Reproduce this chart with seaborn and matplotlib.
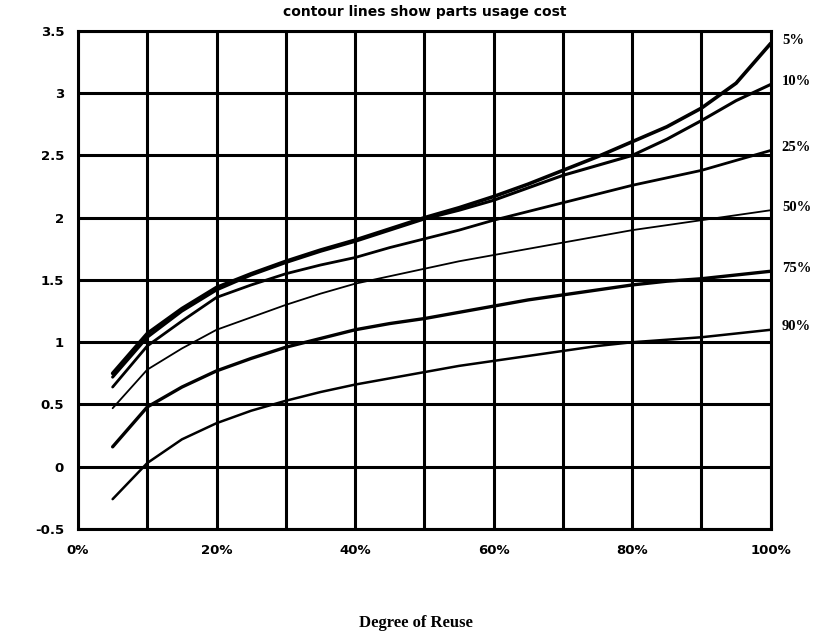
import matplotlib
matplotlib.use("Agg")
import matplotlib.pyplot as plt
import seaborn as sns
import pandas as pd

reuse = [5, 10, 15, 20, 25, 30, 35, 40, 45, 50, 55, 60, 65, 70, 75, 80, 85, 90, 95, 100]
series_names = ["5%", "10%", "25%", "50%", "75%", "90%"]
cost_5 = [0.75, 1.07, 1.27, 1.44, 1.55, 1.65, 1.74, 1.82, 1.91, 2.00, 2.08, 2.17, 2.27, 2.38, 2.49, 2.61, 2.73, 2.88, 3.08, 3.40]
cost_10 = [0.72, 1.04, 1.25, 1.42, 1.54, 1.64, 1.73, 1.81, 1.90, 1.99, 2.06, 2.14, 2.24, 2.34, 2.42, 2.50, 2.63, 2.78, 2.94, 3.07]
cost_25 = [0.64, 0.97, 1.17, 1.36, 1.46, 1.55, 1.62, 1.68, 1.76, 1.83, 1.90, 1.98, 2.05, 2.12, 2.19, 2.26, 2.32, 2.38, 2.46, 2.54]
cost_50 = [0.47, 0.78, 0.95, 1.10, 1.20, 1.30, 1.39, 1.47, 1.53, 1.59, 1.65, 1.70, 1.75, 1.80, 1.85, 1.90, 1.94, 1.98, 2.02, 2.06]
cost_75 = [0.16, 0.48, 0.64, 0.77, 0.87, 0.96, 1.03, 1.10, 1.15, 1.19, 1.24, 1.29, 1.34, 1.38, 1.42, 1.46, 1.49, 1.51, 1.54, 1.57]
cost_90 = [-0.26, 0.03, 0.22, 0.35, 0.45, 0.53, 0.60, 0.66, 0.71, 0.76, 0.81, 0.85, 0.89, 0.93, 0.97, 1.00, 1.02, 1.04, 1.07, 1.10]
all_costs = [cost_5, cost_10, cost_25, cost_50, cost_75, cost_90]
line_widths = [2.6, 2.2, 2.0, 1.3, 2.4, 1.8]

x_ticks = [0, 10, 20, 30, 40, 50, 60, 70, 80, 90, 100]
x_tick_labels = ["0%", "", "20%", "", "40%", "", "60%", "", "80%", "", "100%"]
y_ticks = [-0.5, 0, 0.5, 1, 1.5, 2, 2.5, 3, 3.5]
y_tick_labels = ["-0.5", "0", "0.5", "1", "1.5", "2", "2.5", "3", "3.5"]

rows = []
for name, vals in zip(series_names, all_costs):
    for x, v in zip(reuse, vals):
        rows.append({"reuse": x, "cost": v, "usage": name})
df = pd.DataFrame(rows)

sns.set_theme(style="white")
plt.rcParams["text.color"] = "black"
fig = plt.figure(figsize=(8.15, 6.37), dpi=100)
ax = fig.add_axes([0.0957, 0.1695, 0.850, 0.782])

for name, lw in zip(series_names, line_widths):
    sub = df[df["usage"] == name]
    sns.lineplot(data=sub, x="reuse", y="cost", color="black", linewidth=lw,
                 ax=ax, legend=False, estimator=None, sort=True)

ax.set_xlim(0, 100)
ax.set_ylim(-0.5, 3.5)
ax.set_xticks(x_ticks)
ax.set_xticklabels(x_tick_labels)
ax.set_yticks(y_ticks)
ax.set_yticklabels(y_tick_labels)
ax.grid(True, color="black", linewidth=2.2)
ax.set_axisbelow(True)
for s in ax.spines.values():
    s.set_color("black")
    s.set_linewidth(2.2)
ax.tick_params(axis="both", which="both", direction="out", length=7, width=2,
               color="black", labelsize=9.5, labelcolor="black")
ax.tick_params(axis="x", pad=4)
ax.tick_params(axis="y", pad=3)
for lab in ax.get_xticklabels() + ax.get_yticklabels():
    lab.set_fontweight("heavy")
    lab.set_family("DejaVu Sans")

ax.set_xlabel("")
ax.set_ylabel("")
ax.set_title("contour lines show parts usage cost", fontsize=10, fontweight="heavy",
             family="DejaVu Sans", color="black", pad=11)

for name, vals in zip(series_names, all_costs):
    ax.annotate(name, xy=(100, vals[-1]), xytext=(8, 2), textcoords="offset points",
                ha="left", va="center", fontsize=10.5, fontweight="bold", color="black",
                family="Liberation Serif", annotation_clip=False)

fig.text(0.51, 0.01, "Degree of Reuse", ha="center", va="bottom", fontsize=12,
         fontweight="bold", family="Liberation Serif", color="black")

fig.savefig("out.png", dpi=100, facecolor="white")
